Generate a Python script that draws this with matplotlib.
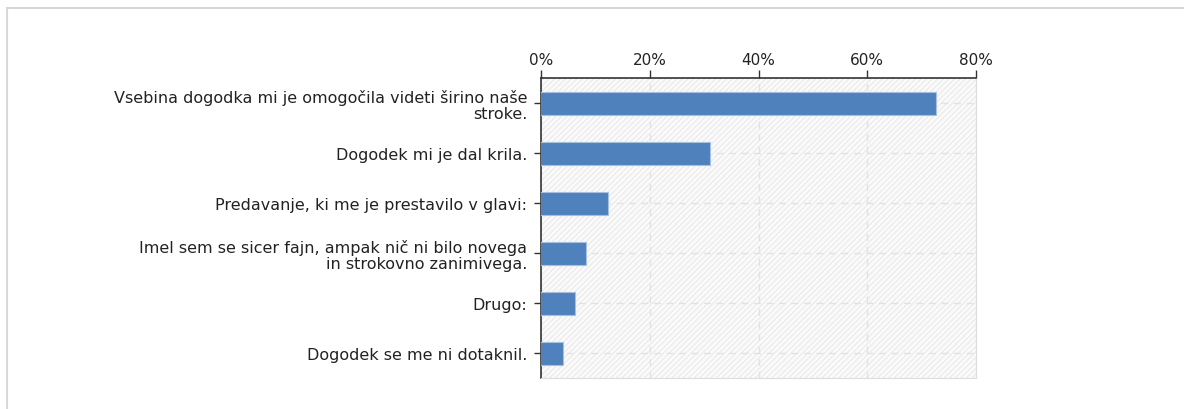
import matplotlib.pyplot as plt
from matplotlib.patches import Rectangle

# Survey answers (top to bottom) and share of respondents in %
labels = [
    "Vsebina dogodka mi je omogočila videti širino naše\nstroke.",
    "Dogodek mi je dal krila.",
    "Predavanje, ki me je prestavilo v glavi:",
    "Imel sem se sicer fajn, ampak nič ni bilo novega\nin strokovno zanimivega.",
    "Drugo:",
    "Dogodek se me ni dotaknil.",
]
shares = [73.0, 31.3, 12.6, 8.5, 6.6, 4.3]
x_ticks = [0, 20, 40, 60, 80]

fig = plt.figure(figsize=(11.84, 4.10), dpi=100)

# light frame around the whole chart
fig.patches.append(Rectangle((7 / 1184, -0.1), 1.2, (410 - 9) / 410 + 0.1,
                             transform=fig.transFigure, fill=False,
                             edgecolor="#d8d8d8", linewidth=1.5))

ax = fig.add_axes([541 / 1184, 1 - 379 / 410, (976 - 541) / 1184, 300 / 410])

# hatched plot background
ax.add_patch(Rectangle((0, 0), 1, 1, transform=ax.transAxes, facecolor="#fbfbfb",
                       hatch="//////", edgecolor="#ececec", linewidth=0, zorder=0))

pos = list(range(len(labels)))
ax.barh(pos, shares, height=0.46, left=-0.3, color="#4f81bd",
        edgecolor="#a7c0e0", linewidth=0.8, zorder=3)

ax.set_ylim(len(labels) - 0.5, -0.5)
ax.set_xlim(0, 80)
ax.set_xticks(x_ticks)
ax.set_xticklabels([f"{t}%" for t in x_ticks])
ax.set_yticks(pos)
ax.set_yticklabels(labels, fontsize=11.5, color="#222222")

ax.xaxis.tick_top()
ax.tick_params(axis="x", direction="out", length=6, width=1, color="#333333",
               labelsize=11, labelcolor="#222222", pad=2)
ax.tick_params(axis="y", direction="out", length=5, width=1, color="#333333", pad=5)
for t in ax.get_yticklabels():
    t.set_multialignment("right")
    t.set_linespacing(1.12)

ax.grid(True, color="#e2e2e2", linestyle=(0, (5, 4)), linewidth=1, zorder=1)
ax.set_axisbelow(True)

ax.spines["top"].set_color("#333333")
ax.spines["left"].set_color("#333333")
ax.spines["top"].set_linewidth(1.2)
ax.spines["left"].set_linewidth(1.2)
ax.spines["right"].set_color("#dddddd")
ax.spines["bottom"].set_color("#dddddd")

fig.savefig("out.png", dpi=100)
